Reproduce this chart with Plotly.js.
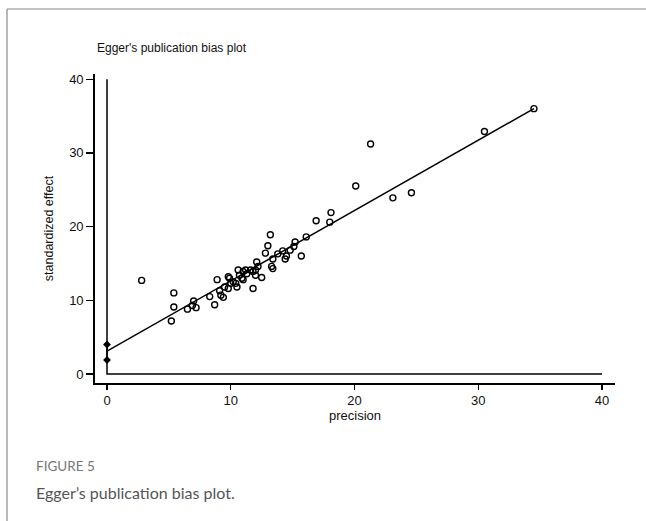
<!DOCTYPE html>
<html>
<head>
<meta charset="utf-8">
<script src="https://cdn.plot.ly/plotly-3.0.1.min.js"></script>
<style>
html,body{margin:0;padding:0;background:#fff;}
#chart{width:646px;height:521px;}
</style>
</head>
<body>
<div id="chart"></div>
<script>
// Study points: precision (x) and standardized effect (y)
var precision = [2.8, 5.4, 5.4, 5.2, 6.5, 6.9, 7.0, 7.2, 8.3, 8.7, 8.9, 9.1, 9.2, 9.4, 9.5, 9.8, 9.8, 9.9, 10.0, 10.2,
  10.4, 10.5, 10.6, 10.7, 10.9, 11.0, 11.0, 11.3, 11.2, 11.6, 11.8, 11.8, 12.0, 12.0, 12.1, 12.2, 12.5, 12.8, 13.0, 13.2,
  13.3, 13.4, 13.4, 13.8, 14.2, 14.4, 14.5, 14.8, 15.1, 15.2, 15.7, 16.1, 16.9, 18.0, 18.1, 20.1, 21.3, 23.1, 24.6, 30.5, 34.5];
var stdEffect = [12.7, 11.0, 9.1, 7.2, 8.8, 9.3, 9.9, 9.0, 10.5, 9.4, 12.8, 11.3, 10.7, 10.4, 11.8, 11.6, 13.2, 13.0, 12.3, 12.5,
  12.3, 11.8, 14.1, 13.4, 13.0, 13.9, 12.8, 13.6, 14.1, 14.1, 13.9, 11.6, 14.1, 13.4, 15.2, 14.6, 13.1, 16.4, 17.4, 18.9,
  14.6, 14.3, 15.6, 16.3, 16.7, 15.6, 16.0, 16.8, 17.3, 17.9, 16.0, 18.6, 20.8, 20.6, 21.9, 25.5, 31.2, 23.9, 24.6, 32.9, 36.0];

// Egger regression
var eggerIntercept = 3.1;
var eggerSlope = 0.954;
var fitRange = [0, 34.5];

// Intercept confidence interval at precision = 0
var ciX = [0, 0];
var ciY = [1.9, 4.0];

// Reference lines (x = 0 vertical, y = 0 horizontal)
var refX = [0, 0, 40];
var refY = [40, 0, 0];

var tickValues = [0, 10, 20, 30, 40];
var tickLabels = ['0', '10', '20', '30', '40'];

var fitY = fitRange.map(function (x) { return eggerIntercept + eggerSlope * x; });

var sans = '"Liberation Sans", Arial, Helvetica, sans-serif';
var capFont = 'Lato, "Open Sans", sans-serif';

var traces = [
  {x: refX, y: refY, type: 'scatter', mode: 'lines', line: {color: '#000', width: 1.5}, hoverinfo: 'skip'},
  {x: fitRange, y: fitY, type: 'scatter', mode: 'lines', line: {color: '#000', width: 1.5}, hoverinfo: 'skip'},
  {x: ciX, y: ciY, type: 'scatter', mode: 'lines+markers', line: {color: '#000', width: 1.5},
   marker: {symbol: 'diamond', size: 6, color: '#000'}},
  {x: precision, y: stdEffect, type: 'scatter', mode: 'markers',
   marker: {symbol: 'circle-open', size: 6, color: '#000', line: {width: 1.4, color: '#000'}}}
];

function px(x) { return (x - 95) / 520; }
function py(y) { return (383 - y) / 309; }

var layout = {
  width: 646, height: 521,
  margin: {l: 95, r: 31, t: 74, b: 138, pad: 0},
  paper_bgcolor: '#fff', plot_bgcolor: '#fff',
  showlegend: false,
  font: {family: sans, size: 13, color: '#000'},
  xaxis: {
    range: [-0.97, 41.05], tickvals: tickValues, ticktext: tickLabels,
    showgrid: false, zeroline: false, showline: true, linecolor: '#000', linewidth: 1.8,
    ticks: 'outside', ticklen: 5, tickwidth: 1.3, tickcolor: '#000',
    tickfont: {family: sans, size: 13, color: '#111'},
    title: {text: 'precision', font: {family: sans, size: 13, color: '#111'}, standoff: 0}
  },
  yaxis: {
    range: [-1.22, 40.7], tickvals: tickValues, ticktext: tickLabels,
    showgrid: false, zeroline: false, showline: true, linecolor: '#000', linewidth: 1.8,
    ticks: 'outside', ticklen: 7, tickwidth: 1.3, tickcolor: '#000',
    tickfont: {family: sans, size: 13, color: '#111'},
    title: {text: 'standardized effect', font: {family: sans, size: 12.5, color: '#111'}, standoff: 13}
  },
  shapes: [
    {type: 'line', xref: 'paper', yref: 'paper', x0: px(7), x1: px(646), y0: py(9), y1: py(9), line: {color: '#888', width: 1.2}},
    {type: 'line', xref: 'paper', yref: 'paper', x0: px(7), x1: px(7), y0: py(9), y1: py(521), line: {color: '#888', width: 1.2}}
  ],
  annotations: [
    {text: "Egger's publication bias plot", xref: 'paper', yref: 'paper', x: px(95), y: py(48),
     xanchor: 'left', yanchor: 'middle', showarrow: false, font: {family: sans, size: 12, color: '#111'}},
    {text: 'FIGURE 5', xref: 'paper', yref: 'paper', x: px(34), y: py(466),
     xanchor: 'left', yanchor: 'middle', showarrow: false, font: {family: capFont, size: 13.5, color: '#777'}},
    {text: "Egger’s publication bias plot.", xref: 'paper', yref: 'paper', x: px(34), y: py(492),
     xanchor: 'left', yanchor: 'middle', showarrow: false, font: {family: capFont, size: 16, color: '#555'}}
  ]
};

Plotly.newPlot('chart', traces, layout, {displayModeBar: false, staticPlot: true});
</script>
</body>
</html>
